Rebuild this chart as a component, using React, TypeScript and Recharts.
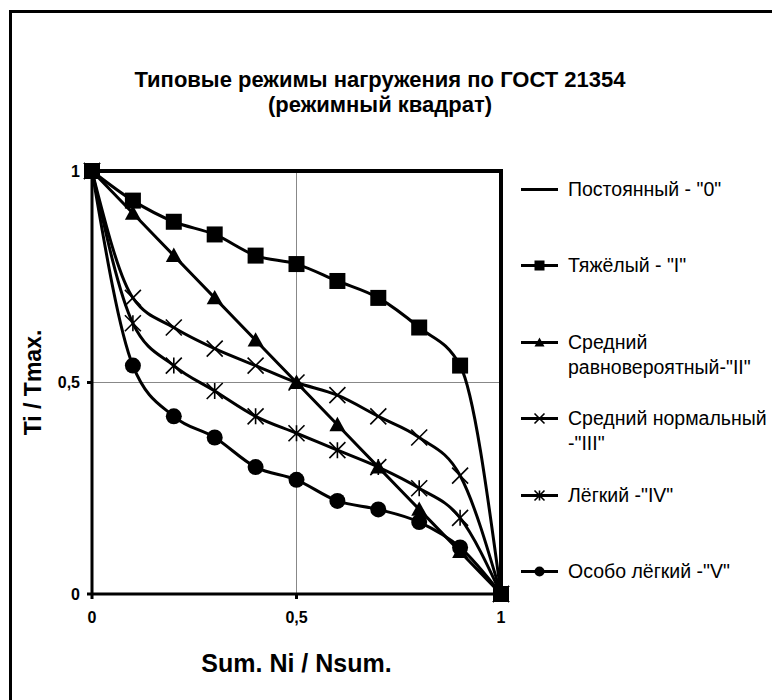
import { LineChart, Line, XAxis, YAxis, ReferenceLine, Legend } from 'recharts';

// Доля суммарного числа циклов Ni / Nsum
const xs = [0, 0.1, 0.2, 0.3, 0.4, 0.5, 0.6, 0.7, 0.8, 0.9, 1];

// Ti / Tmax по режимам
const heavy = [1, 0.93, 0.88, 0.85, 0.8, 0.78, 0.74, 0.7, 0.63, 0.54, 0];
const mediumEqual = [1, 0.9, 0.8, 0.7, 0.6, 0.5, 0.4, 0.3, 0.2, 0.1, 0];
const mediumNormal = [1, 0.7, 0.63, 0.58, 0.54, 0.5, 0.47, 0.42, 0.37, 0.28, 0];
const light = [1, 0.64, 0.54, 0.48, 0.42, 0.38, 0.34, 0.3, 0.25, 0.18, 0];
const extraLight = [1, 0.54, 0.42, 0.37, 0.3, 0.27, 0.22, 0.2, 0.17, 0.11, 0];

// постоянный режим: T = Tmax до конца, затем 0
const constX = [0, 1, 1];
const constY = [1, 1, 0];

const axisTicks = [0, 0.5, 1];

const rows = xs.map((x, i) => ({
  x,
  heavy: heavy[i],
  mediumEqual: mediumEqual[i],
  mediumNormal: mediumNormal[i],
  light: light[i],
  extraLight: extraLight[i],
}));
const constRows = constX.map((x, i) => ({ x, constant: constY[i] }));

type Shape = 'none' | 'square' | 'triangle' | 'cross' | 'star' | 'circle';

const series: { key: string; name: string; shape: Shape }[] = [
  { key: 'constant', name: 'Постоянный - "0"', shape: 'none' },
  { key: 'heavy', name: 'Тяжёлый - "I"', shape: 'square' },
  { key: 'mediumEqual', name: 'Средний\nравновероятный-"II"', shape: 'triangle' },
  { key: 'mediumNormal', name: 'Средний нормальный\n-"III"', shape: 'cross' },
  { key: 'light', name: 'Лёгкий -"IV"', shape: 'star' },
  { key: 'extraLight', name: 'Особо лёгкий -"V"', shape: 'circle' },
];

const FONT = '"Liberation Sans", Arial, sans-serif';

const Marker = ({ shape, cx, cy, s }: { shape: Shape; cx: number; cy: number; s: number }) => {
  const h = s / 2;
  switch (shape) {
    case 'square':
      return <rect x={cx - h} y={cy - h} width={s} height={s} fill="#000" />;
    case 'triangle':
      return <polygon points={`${cx},${cy - h} ${cx + h},${cy + h * 0.8} ${cx - h},${cy + h * 0.8}`} fill="#000" />;
    case 'circle':
      return <circle cx={cx} cy={cy} r={h} fill="#000" />;
    case 'cross':
      return (
        <path d={`M${cx - h},${cy - h}L${cx + h},${cy + h}M${cx - h},${cy + h}L${cx + h},${cy - h}`} stroke="#000" strokeWidth={1.6} />
      );
    case 'star':
      return (
        <path
          d={`M${cx - h},${cy - h}L${cx + h},${cy + h}M${cx - h},${cy + h}L${cx + h},${cy - h}M${cx},${cy - h}L${cx},${cy + h}`}
          stroke="#000"
          strokeWidth={1.6}
        />
      );
    default:
      return null;
  }
};

const makeDot = (shape: Shape) => (props: any) => (
  <g key={`${shape}-${props.index}`}>
    <Marker shape={shape} cx={props.cx} cy={props.cy} s={16} />
  </g>
);

const LegendBox = () => (
  <div style={{ fontFamily: FONT, fontSize: 19.5, color: '#000' }}>
    {series.map((s, i) => (
      <div key={s.key} style={{ position: 'absolute', top: i * 76.4, left: 0, display: 'flex', alignItems: 'flex-start', whiteSpace: 'pre', lineHeight: '25px' }}>
        <svg width={40} height={25} style={{ flex: 'none' }}>
          <line x1={1} y1={12.5} x2={38} y2={12.5} stroke="#000" strokeWidth={3} />
          <Marker shape={s.shape} cx={19.5} cy={12.5} s={10} />
        </svg>
        <span style={{ marginLeft: 8 }}>{s.name}</span>
      </div>
    ))}
  </div>
);

const YTitle = ({ viewBox }: any) => {
  const x = 33;
  const y = viewBox.y + viewBox.height / 2;
  return (
    <text x={x} y={y} transform={`rotate(-90, ${x}, ${y})`} textAnchor="middle" dominantBaseline="central" fontFamily={FONT} fontWeight="bold" fontSize={23} fill="#000">
      Ti / Tmax.
    </text>
  );
};

const XTitle = ({ viewBox }: any) => (
  <text x={viewBox.x + viewBox.width / 2} y={viewBox.y + 69} textAnchor="middle" dominantBaseline="central" fontFamily={FONT} fontWeight="bold" fontSize={25} fill="#000">
    Sum. Ni / Nsum.
  </text>
);

const fmt = (v: number) => String(v).replace('.', ',');
const tickStyle = { fontFamily: FONT, fontWeight: 'bold', fontSize: 16, fill: '#000' };

export default function App() {
  return (
    <div style={{ position: 'absolute', left: 0, top: 0, width: 772, height: 700, overflow: 'hidden', background: '#fff' }}>
      <div style={{ position: 'absolute', left: 9, top: 10, width: 800, height: 720, border: '3px solid #000' }} />
      <div
        style={{
          position: 'absolute',
          left: 0,
          top: 67,
          width: 760,
          textAlign: 'center',
          fontFamily: FONT,
          fontWeight: 'bold',
          fontSize: 22,
          lineHeight: '25px',
          color: '#000',
        }}
      >
        Типовые режимы нагружения по ГОСТ 21354
        <br />
        (режимный квадрат)
      </div>
      <div style={{ position: 'absolute', left: 0, top: 0 }}>
        <LineChart width={772} height={700} data={rows} margin={{ top: 171, right: 271, bottom: 26, left: 0 }}>
          <XAxis
            dataKey="x"
            type="number"
            domain={[0, 1]}
            ticks={axisTicks}
            tickFormatter={fmt}
            tick={tickStyle}
            tickSize={5}
            tickMargin={13}
            height={80}
            stroke="#000"
            strokeWidth={3}
            label={{ content: XTitle }}
          />
          <YAxis
            type="number"
            domain={[0, 1]}
            ticks={axisTicks}
            tickFormatter={fmt}
            tick={tickStyle}
            tickSize={5}
            tickMargin={7}
            width={92}
            stroke="#000"
            strokeWidth={3}
            label={{ content: YTitle }}
          />
          <ReferenceLine x={0.5} stroke="#888" strokeWidth={1} />
          <ReferenceLine y={0.5} stroke="#888" strokeWidth={1} />
          <Line data={constRows} dataKey="constant" name={series[0].name} type="linear" stroke="#000" strokeWidth={4} dot={false} isAnimationActive={false} />
          {series.slice(1).map((s) => (
            <Line
              key={s.key}
              dataKey={s.key}
              name={s.name}
              type="monotone"
              stroke="#000"
              strokeWidth={3}
              dot={makeDot(s.shape)}
              activeDot={false}
              isAnimationActive={false}
            />
          ))}
          <Legend content={LegendBox} wrapperStyle={{ position: 'absolute', left: 520, top: 177, width: 252, height: 0 }} />
        </LineChart>
      </div>
    </div>
  );
}
